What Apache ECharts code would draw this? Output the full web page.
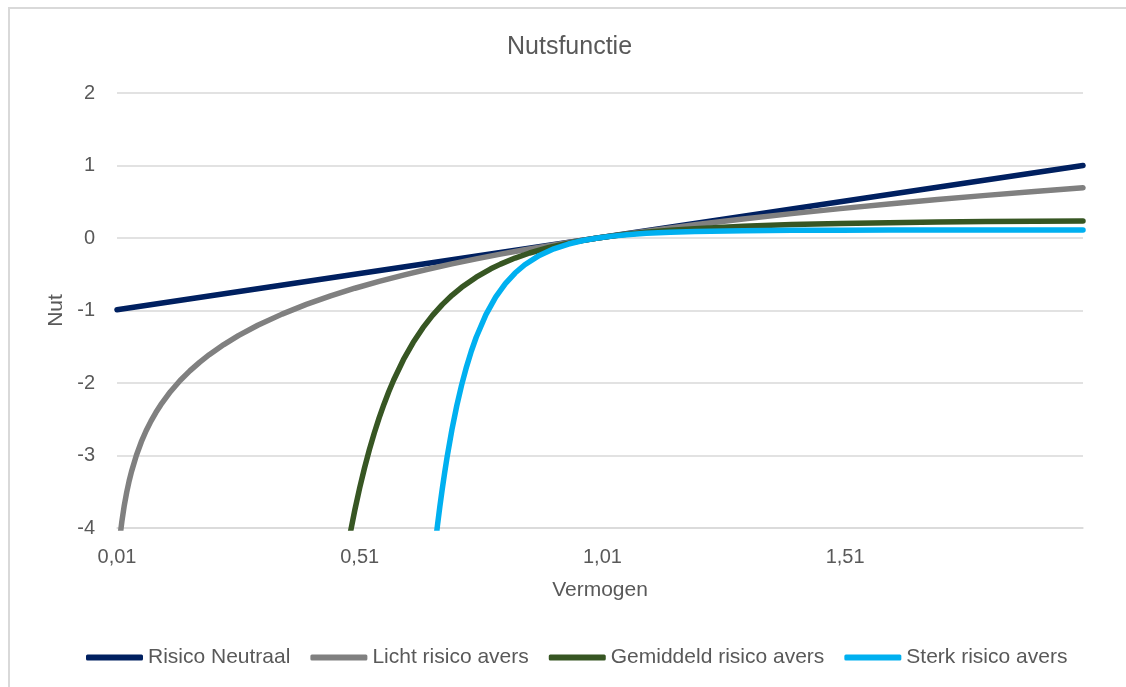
<!DOCTYPE html>
<html>
<head>
<meta charset="utf-8">
<script src="https://cdn.jsdelivr.net/npm/echarts@6/dist/echarts.min.js"></script>
<style>
html,body{margin:0;padding:0;background:#fff;}
#frame{position:absolute;left:8px;top:7px;width:1118px;height:680px;border-left:2px solid #d9d9d9;border-top:2px solid #d9d9d9;}
#chart{position:absolute;left:0;top:0;width:1126px;height:687px;}
</style>
</head>
<body>
<div id="frame"></div>
<div id="chart"></div>
<script>
// Risico Neutraal
const xNeutraal = [0.01, 2.00];
const yNeutraal = [-0.99, 1.00];
// Licht risico avers
const xLicht = [0.01,0.0125,0.015,0.0175,0.02,0.025,0.03,0.035,0.04,0.05,0.06,0.07,0.08,0.09,0.10,0.12,0.14,0.16,0.18,0.20,0.23,0.26,0.30,0.35,0.40,0.45,0.50,0.55,0.60,0.65,0.70,0.75,0.80,0.85,0.90,0.95,1.00,1.10,1.20,1.30,1.40,1.50,1.60,1.70,1.80,1.90,2.00];
const yLicht = [-4.605,-4.382,-4.200,-4.046,-3.912,-3.689,-3.507,-3.352,-3.219,-2.996,-2.813,-2.659,-2.526,-2.408,-2.303,-2.120,-1.966,-1.833,-1.715,-1.609,-1.470,-1.347,-1.204,-1.050,-0.916,-0.799,-0.693,-0.598,-0.511,-0.431,-0.357,-0.288,-0.223,-0.163,-0.105,-0.051,0,0.095,0.182,0.262,0.336,0.405,0.470,0.531,0.588,0.642,0.693];
// Gemiddeld risico avers
const xGemiddeld = [0.48,0.49,0.50,0.51,0.52,0.53,0.54,0.55,0.56,0.57,0.58,0.60,0.62,0.64,0.66,0.68,0.70,0.72,0.75,0.78,0.80,0.83,0.86,0.90,0.95,1.00,1.05,1.10,1.15,1.20,1.30,1.40,1.50,1.60,1.70,1.80,1.90,2.00];
const yGemiddeld = [-4.460,-4.087,-3.750,-3.445,-3.169,-2.918,-2.690,-2.482,-2.292,-2.118,-1.959,-1.679,-1.442,-1.240,-1.068,-0.919,-0.791,-0.680,-0.540,-0.425,-0.360,-0.277,-0.207,-0.131,-0.057,0,0.044,0.079,0.107,0.129,0.163,0.185,0.201,0.212,0.220,0.226,0.231,0.234];
// Sterk risico avers
const xSterk = [0.66,0.665,0.67,0.675,0.68,0.685,0.69,0.70,0.71,0.72,0.73,0.74,0.75,0.77,0.79,0.81,0.83,0.85,0.88,0.91,0.94,0.97,1.00,1.03,1.06,1.10,1.15,1.20,1.30,1.40,1.50,1.60,1.80,2.00];
const ySterk = [-4.566,-4.258,-3.973,-3.709,-3.463,-3.236,-3.023,-2.642,-2.312,-2.026,-1.777,-1.559,-1.369,-1.057,-0.816,-0.629,-0.483,-0.369,-0.240,-0.149,-0.083,-0.035,0,0.026,0.045,0.064,0.080,0.090,0.101,0.106,0.108,0.110,0.111,0.111];

const seriesNames = ['Risico Neutraal','Licht risico avers','Gemiddeld risico avers','Sterk risico avers'];
const seriesColors = ['#002060','#808080','#375623','#00b0f0'];
const xTickLabels = [0.01,0.51,1.01,1.51];
const yTicks = {min:-4,max:2,interval:1};

const seriesX = [xNeutraal, xLicht, xGemiddeld, xSterk];
const seriesY = [yNeutraal, yLicht, yGemiddeld, ySterk];
const font = 'Liberation Sans, Arial, sans-serif';
const textColor = '#595959';

const chart = echarts.init(document.getElementById('chart'), null, {renderer:'canvas'});
chart.setOption({
  animation:false,
  backgroundColor:'transparent',
  title:{text:'Nutsfunctie',left:502,top:30,textStyle:{fontFamily:font,fontSize:25,fontWeight:'normal',color:textColor}},
  legend:{
    data:seriesNames,bottom:14,left:81,
    icon:'roundRect',itemWidth:57,itemHeight:6,itemGap:20,itemTextGap:3,
    textStyle:{fontFamily:font,fontSize:21,color:textColor}
  },
  grid:{left:117,right:43,top:93,bottom:159,containLabel:false},
  xAxis:{
    type:'value',min:0.01,max:2.0,
    name:'Vermogen',nameLocation:'middle',nameGap:52,
    nameTextStyle:{fontFamily:font,fontSize:21,color:textColor},
    axisLine:{show:true,onZero:false,lineStyle:{color:'#d9d9d9',width:1.5}},
    axisTick:{show:false},
    splitLine:{show:false},
    axisLabel:{customValues:xTickLabels,margin:19,fontFamily:font,fontSize:20,color:textColor,
      formatter:v=>v.toFixed(2).replace('.',',')}
  },
  yAxis:{
    type:'value',min:yTicks.min,max:yTicks.max,interval:yTicks.interval,
    name:'Nut',nameLocation:'middle',nameGap:49,nameRotate:90,
    nameTextStyle:{fontFamily:font,fontSize:21,color:textColor},
    axisLine:{show:false},axisTick:{show:false},
    splitLine:{lineStyle:{color:'#d9d9d9',width:1.5}},
    axisLabel:{margin:22,fontFamily:font,fontSize:20,color:textColor}
  },
  series:seriesNames.map((n,i)=>({
    name:n,type:'line',
    data:seriesX[i].map((x,j)=>[x,seriesY[i][j]]),
    showSymbol:false,symbol:'none',
    smooth:false,clip:true,
    lineStyle:{color:seriesColors[i],width:5.5,cap:'round',join:'round'},
    itemStyle:{color:seriesColors[i]}
  }))
});
</script>
</body>
</html>
